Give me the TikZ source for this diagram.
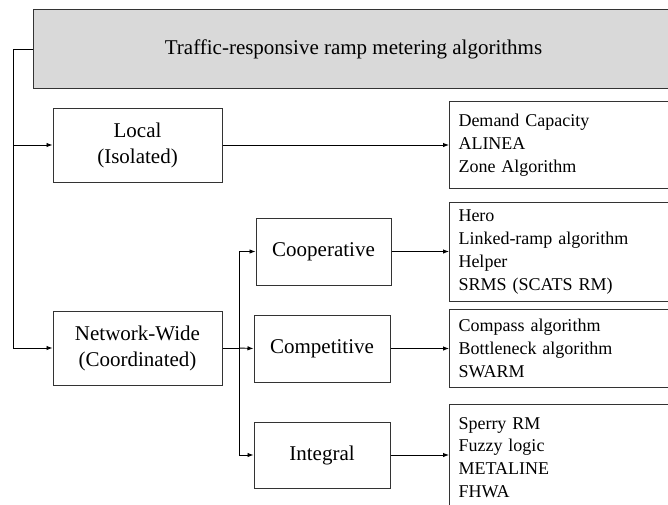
\documentclass[tikz,border=0pt]{standalone}
\usepackage{fontspec}
\setmainfont{Liberation Serif}
\usetikzlibrary{arrows.meta}
\definecolor{edgec}{HTML}{333333}
\definecolor{titlegray}{HTML}{D9D9D9}
\tikzset{
  box/.style={draw=edgec, line width=1pt, fill=white, align=center, inner sep=0pt,
    font=\fontsize{21}{26}\selectfont},
  lst/.style={draw=edgec, line width=1pt, fill=white, anchor=north west, align=left,
    text width=220pt, inner xsep=9pt, inner ysep=0pt, font=\fontsize{18}{22.7}\selectfont},
  arr/.style={draw=black, line width=0.9pt, -{Latex[length=6pt,width=4.5pt]}},
  ln/.style={draw=black, line width=0.9pt}
}
\begin{document}
\begin{tikzpicture}[x=1pt,y=-1pt]
\useasboundingbox (0,0) rectangle (668,504);
\clip (0,0) rectangle (668,504);
\fill[white] (0,0) rectangle (668,504);

\node[draw=edgec, fill=titlegray, line width=1pt, minimum width=640pt, minimum height=79pt,
  anchor=north west, inner sep=0pt, font=\fontsize{21}{26}\selectfont] (title) at (33,9)
  {Traffic-responsive ramp metering algorithms};

\node[box, minimum width=169pt, minimum height=74pt] (loc) at (137.5,145) {Local\\(Isolated)};
\node[box, minimum width=169pt, minimum height=74pt] (net) at (137.5,348) {Network-Wide\\(Coordinated)};

\node[box, minimum width=135pt, minimum height=67pt] (coop) at (323.5,251.5) {Cooperative};
\node[box, minimum width=136pt, minimum height=67pt] (comp) at (322,348.5) {Competitive};
\node[box, minimum width=136pt, minimum height=66pt] (integ) at (322,455) {Integral};

\node[lst, minimum height=87pt] (l1) at (449,101) {Demand Capacity\\ALINEA\\Zone Algorithm};
\node[lst, minimum height=99pt] (l2) at (449,202) {Hero\\Linked-ramp algorithm\\Helper\\SRMS (SCATS RM)};
\node[lst, minimum height=78pt] (l3) at (449,309) {Compass algorithm\\Bottleneck algorithm\\SWARM};
\node[lst, minimum height=106pt] (l4) at (449,404) {Sperry RM\\Fuzzy logic\\METALINE\\FHWA};

% trunk on the left
\coordinate (tr) at (13,49);
\draw[ln] (title.west |- tr) -- (tr);
\draw[arr] (tr) |- (net.west);
\draw[arr] (tr |- loc.west) -- (loc.west);

% branch for network-wide
\coordinate (br) at (239,348);
\draw[ln] (net.east) -- (br);
\draw[arr] (br) |- (coop.west);
\draw[arr] (br) -- (comp.west);
\draw[arr] (br) |- (integ.west);

% to lists
\draw[arr] (loc.east) -- (loc.east -| l1.west);
\draw[arr] (coop.east) -- (coop.east -| l2.west);
\draw[arr] (comp.east) -- (comp.east -| l3.west);
\draw[arr] (integ.east) -- (integ.east -| l4.west);
\end{tikzpicture}
\end{document}
